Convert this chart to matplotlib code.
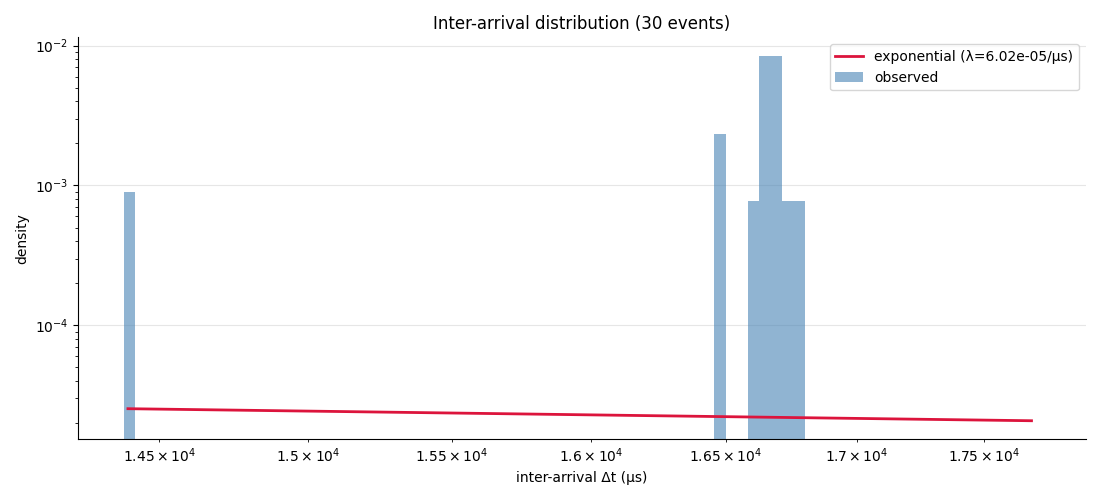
import matplotlib

matplotlib.use("Agg")

import matplotlib.pyplot as plt
import numpy as np

# histogram bins (inter-arrival, µs) and their density
BIN_LEFT = [14384, 16456, 16584, 16627, 16670, 16713, 16757]
BIN_RIGHT = [14421, 16499, 16627, 16670, 16713, 16757, 16800]
DENSITY = [9.0e-4, 2.34e-3, 7.75e-4, 8.5e-3, 8.5e-3, 7.7e-4, 7.7e-4]

# exponential fit
RATE = 6.02e-05
FIT_RANGE = [14397, 17691]

X_LIMITS = (14235, 17911)

BAR_COLOR = "steelblue"
LINE_COLOR = "crimson"


def main():
    figure, axis = plt.subplots(figsize=(11, 5), dpi=100)
    left = np.array(BIN_LEFT, dtype=float)
    right = np.array(BIN_RIGHT, dtype=float)
    axis.bar(left, DENSITY, width=right - left, align="edge",
             color=BAR_COLOR, alpha=0.6, label="observed")

    fit_x = np.array(FIT_RANGE, dtype=float)
    fit_y = RATE * np.exp(-RATE * fit_x)
    axis.plot(fit_x, fit_y, color=LINE_COLOR, linewidth=2,
              label=f"exponential (λ={RATE:.2e}/µs)")

    axis.set_xscale("log")
    axis.set_yscale("log")
    axis.set_xlim(*X_LIMITS)
    axis.set_xlabel("inter-arrival Δt (µs)")
    axis.set_ylabel("density")
    axis.set_title("Inter-arrival distribution (30 events)")
    axis.grid(True, axis="y", which="major", color="#e6e6e6", linewidth=0.8)
    axis.set_axisbelow(True)
    for spine in ("top", "right"):
        axis.spines[spine].set_visible(False)
    axis.legend(loc="upper right")

    figure.subplots_adjust(left=0.0712, right=0.987, top=0.9254, bottom=0.122)
    figure.savefig("out.png", dpi=100)
    plt.close(figure)


if __name__ == "__main__":
    main()
